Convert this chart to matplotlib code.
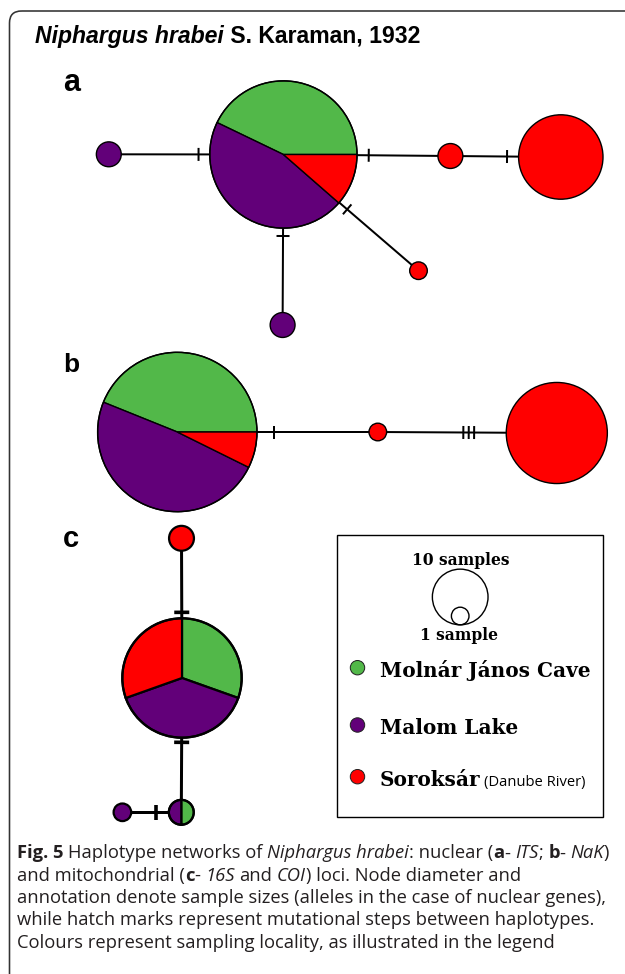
import numpy as np
import matplotlib
matplotlib.use("Agg")
import matplotlib.pyplot as plt
from matplotlib.patches import Wedge, Circle, Rectangle, FancyBboxPatch

W, H = 625, 974
PX = 0.72  # points per pixel at dpi 100

# ---------------- data ----------------
localities = ["Molnár János Cave", "Malom Lake", "Soroksár"]
locality_note = "(Danube River)"
loc_colors = ["#52b849", "#620079", "#ff0000"]

# haplotype counts per locality [Molnár János Cave, Malom Lake, Soroksár]
a_counts = [[30, 32, 8], [0, 2, 0], [0, 0, 2], [0, 0, 23], [0, 0, 1], [0, 2, 0]]
a_edges = [(0, 1), (0, 2), (2, 3), (0, 4), (0, 5)]
a_steps = [1, 1, 1, 1, 1]

b_counts = [[36, 40, 6], [0, 0, 1], [0, 0, 33]]
b_edges = [(0, 1), (1, 2)]
b_steps = [1, 3]

c_counts = [[0, 0, 2], [14, 18, 14], [1, 1, 0], [0, 1, 0]]
c_edges = [(0, 1), (1, 2), (3, 2)]
c_steps = [1, 1, 1]

legend_sizes = [10, 1]
legend_size_labels = ["10 samples", "1 sample"]

title_italic = "Niphargus hrabei"
title_rest = " S. Karaman, 1932"
panel_labels = ["a", "b", "c"]

caption_lines = [
    [("Fig. 5", "b"), (" Haplotype networks of ", "n"), ("Niphargus hrabei", "i"),
     (": nuclear (", "n"), ("a", "b"), ("- ", "n"), ("ITS", "i"), ("; ", "n"),
     ("b", "b"), ("- ", "n"), ("NaK", "i"), (")", "n")],
    [("and mitochondrial (", "n"), ("c", "b"), ("- ", "n"), ("16S", "i"),
     (" and ", "n"), ("COI", "i"), (") loci. Node diameter and", "n")],
    [("annotation denote sample sizes (alleles in the case of nuclear genes),", "n")],
    [("while hatch marks represent mutational steps between haplotypes.", "n")],
    [("Colours represent sampling locality, as illustrated in the legend", "n")],
]

# ---------------- layout (pixels from top-left) ----------------
R1 = 8.8  # radius of a one-sample node
a_pos = [(283.4, 154.5), (108.8, 154.3), (450.4, 156), (560.8, 157), (418.5, 270.7), (282.6, 325)]
a_tick_t = [0.486, 0.511, 0.513, 0.472, 0.478]
b_pos = [(177.3, 432), (377.8, 432), (556.8, 433)]
b_tick_t = [0.483, 0.508]
c_pos = [(181.5, 538.3), (182.0, 678.0), (181.3, 812.3), (122.4, 812.3)]
c_tick_t = [0.53, 0.479, 0.565]

fig = plt.figure(figsize=(W / 100, H / 100), dpi=100)
ax = fig.add_axes([0, 0, 1, 1])
ax.set_xlim(0, W)
ax.set_ylim(H, 0)
ax.axis("off")
renderer = fig.canvas.get_renderer()


def node(center, counts, start, ccw, lw):
    total = sum(counts)
    r = R1 * np.sqrt(total)
    ang = start
    nz = [k for k, n in enumerate(counts) if n > 0]
    if len(nz) == 1:
        ax.add_patch(Circle(center, r, facecolor=loc_colors[nz[0]], edgecolor="black",
                            lw=lw, zorder=3))
        return
    for k, n in enumerate(counts):
        if n == 0:
            continue
        span = 360.0 * n / total
        if ccw:
            a1, a2 = ang, ang + span
            ang += span
        else:
            a1, a2 = ang - span, ang
            ang -= span
        ax.add_patch(Wedge(center, r, -a2, -a1, facecolor=loc_colors[k],
                           edgecolor="black", lw=lw, zorder=3))
    ax.add_patch(Circle(center, r, fill=False, edgecolor="black", lw=lw, zorder=4))


def network(pos, counts, edges, steps, tick_t, start, ccw, elw, tlw, tlen, tgap, nlw):
    for (i, j), s, t in zip(edges, steps, tick_t):
        p0 = np.array(pos[i]); p1 = np.array(pos[j])
        ax.plot([p0[0], p1[0]], [p0[1], p1[1]], color="black", lw=elw * PX,
                solid_capstyle="butt", zorder=1)
        d = (p1 - p0) / np.linalg.norm(p1 - p0)
        nrm = np.array([-d[1], d[0]])
        mid = p0 + t * (p1 - p0)
        for q in range(s):
            c = mid + (q - (s - 1) / 2) * tgap * d
            e0 = c - nrm * tlen / 2; e1 = c + nrm * tlen / 2
            ax.plot([e0[0], e1[0]], [e0[1], e1[1]], color="black", lw=tlw * PX,
                    solid_capstyle="butt", zorder=2)
    for p, cnt in zip(pos, counts):
        node(p, cnt, start, ccw, nlw)


network(a_pos, a_counts, a_edges, a_steps, a_tick_t, 0, True, 2.0, 2.0, 13, 5.4, 1.0)
network(b_pos, b_counts, b_edges, b_steps, b_tick_t, 0, True, 2.0, 2.0, 13, 5.4, 1.0)
network(c_pos, c_counts, c_edges, c_steps, c_tick_t, 90, False, 3.0, 3.6, 15, 5.4, 1.6)

# panel labels
for lab, (x, y), fs in zip(panel_labels, [(63, 91), (63, 372), (63, 547)], [22, 19, 21]):
    ax.text(x, y, lab, fontsize=fs, fontweight="bold", family="Liberation Sans",
            ha="left", va="baseline")

# title
title_fs = 16.6
t1 = ax.text(35, 43, title_italic, fontsize=title_fs, fontweight="bold", style="italic",
             family="Liberation Sans", ha="left", va="baseline")
w1 = t1.get_window_extent(renderer).width
ax.text(35 + w1, 43, title_rest, fontsize=title_fs, fontweight="bold",
        family="Liberation Sans", ha="left", va="baseline")

# frame
ax.add_patch(FancyBboxPatch((9.5, 11), 700, 1000, boxstyle="round,pad=0,rounding_size=12",
                            fill=False, edgecolor="#333333", lw=1.6 * PX, zorder=0))

# legend box
ax.add_patch(Rectangle((336.8, 535), 266.2, 281.7, fill=False, edgecolor="black",
                       lw=1.4 * PX, zorder=2))
lx, lbottom = 460.2, 624.8
for n in legend_sizes:
    r = R1 * np.sqrt(n)
    ax.add_patch(Circle((lx, lbottom - r), r, fill=False, edgecolor="black", lw=1.4 * PX,
                        zorder=3))
serif = "DejaVu Serif"
ax.text(460.5, 565, legend_size_labels[0], fontsize=11.2, fontweight="bold", family=serif,
        ha="center", va="baseline")
ax.text(459.5, 640, legend_size_labels[1], fontsize=11.2, fontweight="bold", family=serif,
        ha="center", va="baseline")

dot_y = [667.7, 725, 776.7]
base_y = [677.3, 734, 786]
for k, name in enumerate(localities):
    ax.add_patch(Circle((357.5, dot_y[k]), 7.2, facecolor=loc_colors[k], edgecolor="#222222",
                        lw=1.0 * PX, zorder=3))
    tt = ax.text(380, base_y[k], name, fontsize=14.4, fontweight="bold", family=serif,
                 ha="left", va="baseline")
    if k == 2:
        wn = tt.get_window_extent(renderer).width
        ax.text(380 + wn + 3, base_y[k], locality_note, fontsize=10.6, family="Open Sans",
                ha="left", va="baseline")

# caption
cap_fs = 13.2
styles = {"n": dict(fontweight="normal", style="normal"),
          "b": dict(fontweight="bold", style="normal"),
          "i": dict(fontweight="normal", style="italic")}


def width_of(s, st):
    t = ax.text(0, 0, s, fontsize=cap_fs, family="Open Sans", **styles[st])
    w = t.get_window_extent(renderer).width
    t.remove()
    return w


space_w = {st: width_of("x x", st) - width_of("xx", st) for st in styles}
cap_base = [858.3, 880.7, 903.0, 925.3, 947.6]
for runs, yb in zip(caption_lines, cap_base):
    x = 17
    for s, st in runs:
        lead = len(s) - len(s.lstrip(" "))
        trail = len(s) - len(s.rstrip(" "))
        core = s.strip(" ")
        x += lead * space_w[st]
        if core:
            t = ax.text(x, yb, core, fontsize=cap_fs, family="Open Sans", color="#231f20",
                        ha="left", va="baseline", **styles[st])
            x += t.get_window_extent(renderer).width
        x += trail * space_w[st]

fig.savefig("out.png", dpi=100)
